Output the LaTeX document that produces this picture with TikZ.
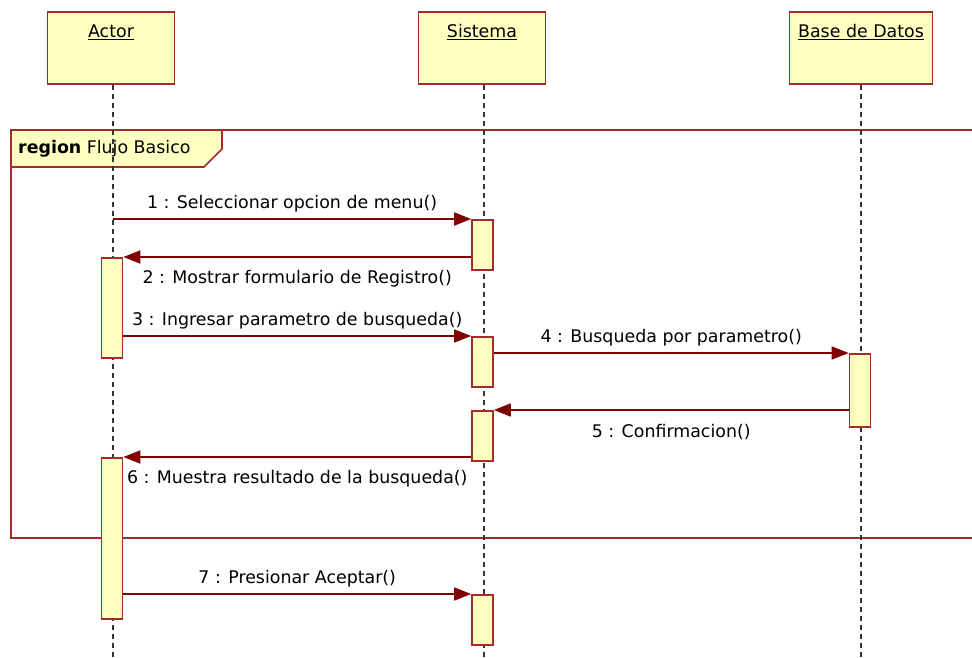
\documentclass[tikz,border=0pt]{standalone}
\usepackage{fontspec}
\setmainfont{DejaVu Sans}
\usetikzlibrary{arrows.meta, positioning}
\definecolor{umlfill}{RGB}{255,255,194}
\definecolor{umlline}{RGB}{163,45,45}
\definecolor{msgline}{RGB}{128,0,0}

\begin{document}
\begin{tikzpicture}[x=1pt, y=-1pt, on grid,
        font=\fontsize{17.4}{20}\selectfont,
        head/.style={draw=umlline, fill=umlfill, line width=1.6pt, minimum width=127pt, minimum height=72pt, inner sep=0pt},
        act/.style={draw=umlline, fill=umlfill, line width=1.6pt, minimum width=21pt, anchor=north, inner sep=0pt},
        life/.style={black!80, line width=1.6pt, dash pattern=on 5pt off 4pt},
        msg/.style={msgline, line width=1.6pt, -{Triangle[length=17pt, width=13pt]}}]
        \useasboundingbox (0,0) rectangle (972,658);
        % region frame
        \draw[umlline, line width=1.6pt] (972,130) -| (11,538) -- (972,538);
        \draw[umlline, line width=1.6pt, fill=umlfill] (11,130) -- (222,130) -- (222,149) -- (204,167) -- (11,167) -- cycle;
        \node[anchor=west, inner sep=0pt] (reg) at (18,149) {\textbf{region} Flujo Basico};
        % objects
        \node[head, label={[anchor=north, inner sep=0pt, yshift=-13pt]north:\underline{Actor}}] (actor) at (111,48) {};
        \node[head, label={[anchor=north, inner sep=0pt, yshift=-13pt]north:\underline{Sistema}}] (sis) [right=371pt of actor] {};
        \node[head, minimum width=143pt, label={[anchor=north, inner sep=0pt, yshift=-13pt]north:\underline{Base de Datos}}] (bd) [right=379pt of sis] {};
        \coordinate (actorend) at (113,658);
        \coordinate (sisend) at (484,658);
        \coordinate (bdend) at (861,658);
        \draw[life] (actor.south -| actorend) -- (actorend);
        \draw[life] (sis.south -| sisend) -- (sisend);
        \draw[life] (bd.south -| bdend) -- (bdend);
        % activations
        \node[act, minimum height=100pt] (a1) at (112,257) {};
        \node[act, minimum height=161pt] (a2) at (112,457) {};
        \node[act, minimum height=50pt] (s1) at (482.5,219) {};
        \node[act, minimum height=50pt] (s2) at (482.5,336) {};
        \node[act, minimum height=50pt] (s3) at (482.5,410) {};
        \node[act, minimum height=50pt] (s4) at (482.5,594) {};
        \node[act, minimum height=73pt] (b1) at (860,353) {};
        % messages
        \draw[msg] (actorend |- s1.north) -- (s1.north west) node[midway, above=3pt, text=black] {1 : Seleccionar opcion de menu()};
        \draw[msg] (s1.west |- a1.north) -- (a1.north east) node[midway, below=9pt, text=black] {2 : Mostrar formulario de Registro()};
        \draw[msg] (a1.east |- s2.north) -- (s2.north west) node[midway, above=3pt, text=black] {3 : Ingresar parametro de busqueda()};
        \draw[msg] (s2.east |- b1.north) -- (b1.north west) node[midway, above=3pt, text=black] {4 : Busqueda por parametro()};
        \draw[msg] (b1.west |- s3.north) -- (s3.north east) node[midway, below=10pt, text=black] {5 : Confirmacion()};
        \draw[msg] (s3.west |- a2.north) -- (a2.north east) node[midway, below=9pt, text=black] {6 : Muestra resultado de la busqueda()};
        \draw[msg] (a2.east |- s4.north) -- (s4.north west) node[midway, above=3pt, text=black] {7 : Presionar Aceptar()};
    \end{tikzpicture}
\end{document}
